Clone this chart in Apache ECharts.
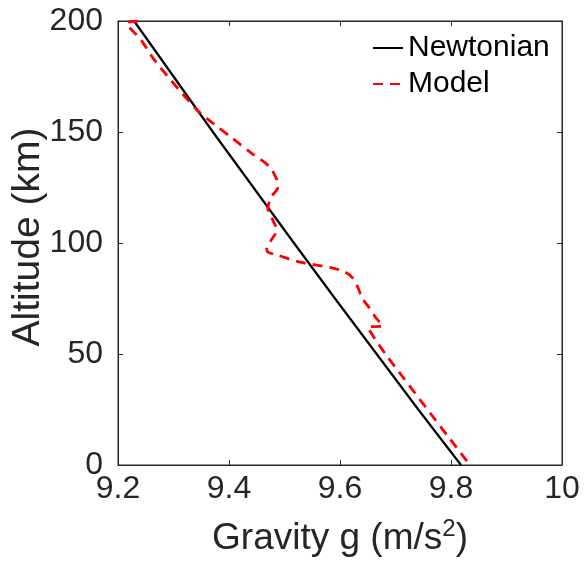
<!DOCTYPE html>
<html>
<head>
<meta charset="utf-8">
<script src="https://cdn.jsdelivr.net/npm/echarts@6/dist/echarts.min.js"></script>
<style>html,body{margin:0;padding:0;background:#fff;}#chart{width:584px;height:561px;}</style>
</head>
<body>
<div id="chart"></div>
<script>
// Newtonian gravity
const newtonAlt = [0, 25, 50, 75, 100, 125, 150, 175, 200];
const newtonG   = [9.818, 9.741, 9.666, 9.591, 9.517, 9.444, 9.371, 9.300, 9.229];
// Model gravity
const modelAlt = [200, 199, 192, 182, 160, 154, 147, 140.4, 134.6, 129.2, 125.1, 121, 115.6, 110.3, 105.8, 101.3, 97.7, 95.9, 94.5, 91.4, 88.7, 86.9, 84.2, 80.1, 75.2, 71.1, 66.2, 62.6, 62.1, 57.6, 48.6, 0];
const modelG   = [9.236, 9.216, 9.240, 9.267, 9.342, 9.371, 9.407, 9.441, 9.472, 9.485, 9.488, 9.477, 9.470, 9.479, 9.486, 9.476, 9.468, 9.470, 9.488, 9.528, 9.587, 9.609, 9.623, 9.632, 9.640, 9.652, 9.665, 9.677, 9.650, 9.661, 9.686, 9.834];
const seriesNames = ['Newtonian', 'Model'];
const xMin = 9.2, xMax = 10, xStep = 0.2;
const yMin = 0, yMax = 200, yStep = 50;

const txt = '#262626';
const font = 'Liberation Sans';
const chart = echarts.init(document.getElementById('chart'), null, {renderer: 'canvas'});
const baseX = {
  type: 'value', min: xMin, max: xMax, interval: xStep,
  axisLine: {show: true, onZero: false, lineStyle: {color: txt, width: 1}},
  axisTick: {show: true, inside: true, length: 5, lineStyle: {color: txt}},
  splitLine: {show: false}
};
const baseY = {
  type: 'value', min: yMin, max: yMax, interval: yStep,
  axisLine: {show: true, onZero: false, lineStyle: {color: txt, width: 1}},
  axisTick: {show: true, inside: true, length: 5, lineStyle: {color: txt}},
  splitLine: {show: false}
};
chart.setOption({
  animation: false,
  backgroundColor: '#fff',
  grid: {left: 118, right: 22, top: 21, bottom: 96, show: true, borderColor: txt, borderWidth: 1,
         containLabel: false, outerBoundsMode: 'none'},
  legend: {
    orient: 'vertical', left: 372, top: 33, itemWidth: 30, itemHeight: 14, itemGap: 6, padding: 0,
    data: seriesNames,
    itemStyle: {opacity: 0},
    textStyle: {fontSize: 30, fontFamily: font, color: '#000'}
  },
  xAxis: [
    Object.assign({}, baseX, {
      position: 'bottom',
      axisLabel: {show: true, fontSize: 32, fontFamily: font, color: txt, margin: 8},
      name: 'Gravity g (m/s{sup|2})', nameLocation: 'middle', nameGap: 52, nameMoveOverlap: false,
      nameTextStyle: {fontSize: 37, fontFamily: font, color: txt,
        rich: {sup: {fontSize: 24, fontFamily: font, color: txt, padding: [0, 0, 19, 0]}}}
    }),
    Object.assign({}, baseX, {position: 'top', axisLabel: {show: false}})
  ],
  yAxis: [
    Object.assign({}, baseY, {
      position: 'left',
      axisLabel: {show: true, fontSize: 32, fontFamily: font, color: txt, margin: 15},
      name: 'Altitude (km)', nameLocation: 'middle', nameGap: 70, nameMoveOverlap: false,
      nameTextStyle: {fontSize: 39, fontFamily: font, color: txt, padding: [0, 0, 0, 12]}
    }),
    Object.assign({}, baseY, {position: 'right', axisLabel: {show: false}})
  ],
  series: [
    {
      name: seriesNames[0], type: 'line', xAxisIndex: 0, yAxisIndex: 0,
      data: newtonAlt.map((a, i) => [newtonG[i], a]),
      showSymbol: false, symbol: 'none', smooth: false,
      lineStyle: {color: '#000', width: 2.2}, itemStyle: {color: '#000'}
    },
    {
      name: seriesNames[1], type: 'line', xAxisIndex: 0, yAxisIndex: 0,
      data: modelAlt.map((a, i) => [modelG[i], a]),
      showSymbol: false, symbol: 'none', smooth: 0.3,
      lineStyle: {color: '#ff0000', width: 2.8, type: [10, 7]}, itemStyle: {color: '#ff0000'}
    }
  ]
});
</script>
</body>
</html>
